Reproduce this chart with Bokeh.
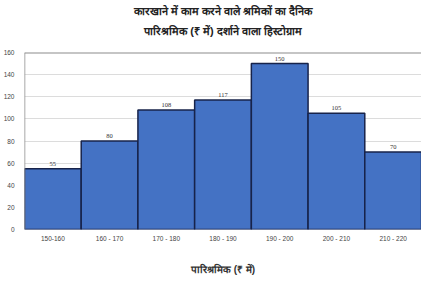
from bokeh.plotting import figure
from bokeh.models import ColumnDataSource, FixedTicker, Title, LabelSet, Range1d, Span
from bokeh.embed import file_html
from bokeh.resources import INLINE

lefts = [150, 160, 170, 180, 190, 200, 210]
rights = [160, 170, 180, 190, 200, 210, 220]
values = [55, 80, 108, 117, 150, 105, 70]
tick_labels = ["150-160", "160 - 170", "170 - 180", "180 - 190", "190 - 200", "200 - 210", "210 - 220"]
title_lines = ["कारखाने में काम करने वाले श्रमिकों का दैनिक", "पारिश्रमिक (₹ में) दर्शाने वाला हिस्टोग्राम"]
x_title = "पारिश्रमिक (₹ में)"
y_ticks = [0, 20, 40, 60, 80, 100, 120, 140, 160]

centers = [(l + r) / 2 for l, r in zip(lefts, rights)]
src = ColumnDataSource(dict(left=lefts, right=rights, top=values, bottom=[0]*len(values),
                            x=centers, lab=[str(v) for v in values]))

p = figure(width=421, height=277, output_backend="svg", toolbar_location=None,
           x_range=Range1d(lefts[0], rights[-1]), y_range=Range1d(y_ticks[0], y_ticks[-1]),
           min_border_left=23, min_border_right=0, min_border_top=0, min_border_bottom=48)

p.quad(left="left", right="right", top="top", bottom="bottom", source=src,
       fill_color="#4472C4", line_color="#17234a", line_width=1.5)

labels = LabelSet(x="x", y="top", text="lab", source=src, y_offset=3, text_align="center",
                  text_font_size="6.5px", text_color="#333333", text_font="Noto Sans")
p.add_layout(labels)

p.xaxis.ticker = FixedTicker(ticks=centers)
p.xaxis.major_label_overrides = {c: t for c, t in zip(centers, tick_labels)}
p.xaxis.major_tick_line_color = None
p.xaxis.major_tick_out = 0
p.xaxis.major_tick_in = 0
p.xaxis.minor_tick_line_color = None
p.xaxis.axis_line_color = None
p.xaxis.major_label_text_font_size = "6.5px"
p.xaxis.major_label_text_color = "#444444"
p.xaxis.major_label_standoff = 5
p.xaxis.axis_label = x_title
p.xaxis.axis_label_text_font_size = "10px"
p.xaxis.axis_label_text_font_style = "bold"
p.xaxis.axis_label_text_color = "#333333"
p.xaxis.axis_label_standoff = 19

p.yaxis.ticker = FixedTicker(ticks=y_ticks)
p.yaxis.major_tick_line_color = None
p.yaxis.major_tick_out = 0
p.yaxis.major_tick_in = 0
p.yaxis.minor_tick_line_color = None
p.yaxis.axis_line_color = None
p.yaxis.major_label_text_font_size = "6.5px"
p.yaxis.major_label_text_color = "#444444"
p.yaxis.major_label_standoff = 10

p.xgrid.grid_line_color = None
p.ygrid.grid_line_color = "#dcdcdc"
p.outline_line_color = None
p.add_layout(Span(location=y_ticks[-1], dimension="width", line_color="#8c8c8c", line_width=2))
p.add_layout(Span(location=lefts[0], dimension="height", line_color="#8c8c8c", line_width=1.5))

p.add_layout(Title(text=" ", text_font_size="1px", standoff=8), "above")
p.add_layout(Title(text=title_lines[1], align="center", text_font_size="11px", text_font_style="bold",
                   text_color="#222222", standoff=9), "above")
p.add_layout(Title(text=title_lines[0], align="center", text_font_size="11px", text_font_style="bold",
                   text_color="#222222", standoff=4), "above")

open("out.html", "w").write(file_html(p, INLINE))
